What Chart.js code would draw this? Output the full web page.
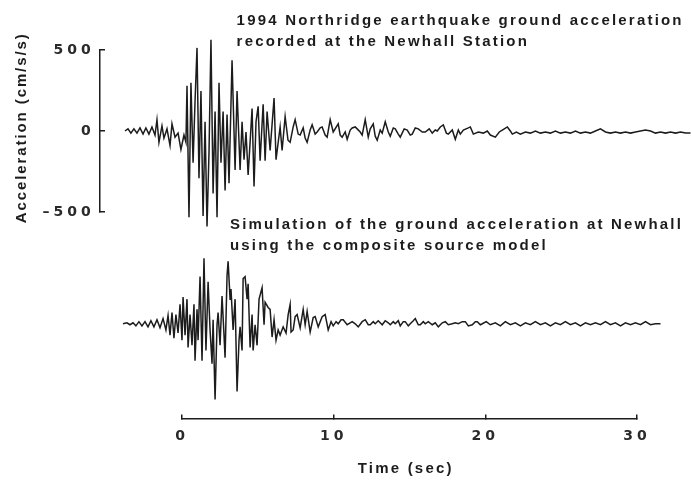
<!DOCTYPE html>
<html>
<head>
<meta charset="utf-8">
<script src="https://cdn.jsdelivr.net/npm/chart.js@4.4.1/dist/chart.umd.min.js"></script>
<style>
  html, body { margin: 0; padding: 0; background: #fff; }
  canvas { display: block; }
</style>
</head>
<body>
<canvas id="quake" width="691" height="481"></canvas>
<script>
// recorded ground acceleration at Newhall (time in s, acceleration in cm/s/s)
recTime = [
  -3.76,-3.56,-3.37,-3.17,-2.97,-2.77,-2.57,-2.38,-2.18,-1.98,
  -1.78,-1.65,-1.52,-1.32,-1.19,-0.99,-0.79,-0.66,-0.46,-0.26,
  -0.07,0.13,0.26,0.33,0.46,0.59,0.73,0.86,0.99,1.12,
  1.25,1.39,1.52,1.65,1.78,1.91,2.05,2.18,2.31,2.44,
  2.57,2.71,2.84,2.97,3.10,3.30,3.50,3.63,3.83,3.96,
  4.09,4.22,4.36,4.49,4.62,4.75,4.88,5.02,5.15,5.35,
  5.48,5.61,5.81,6.07,6.20,6.47,6.60,6.80,6.99,7.13,
  7.33,7.46,7.66,7.79,7.99,8.12,8.25,8.45,8.58,8.78,
  8.91,9.11,9.24,9.44,9.57,9.77,9.97,10.30,10.43,10.56,
  10.76,10.89,11.09,11.22,11.42,11.55,11.75,11.88,12.08,12.28,
  12.41,12.61,12.74,12.87,13.07,13.20,13.40,13.60,13.73,13.93,
  14.06,14.26,14.39,14.65,14.85,15.05,15.18,15.38,15.58,15.84,
  16.04,16.30,16.50,16.70,16.83,17.03,17.23,17.43,17.56,17.82,
  18.02,18.22,18.35,18.55,18.88,19.01,19.21,19.54,19.87,20.13,
  20.33,20.66,20.92,21.12,21.45,21.65,21.78,22.05,22.31,22.64,
  22.97,23.30,23.63,23.96,24.29,24.62,24.95,25.28,25.61,25.94,
  26.27,26.60,26.93,27.26,27.59,27.92,28.25,28.58,28.91,29.24,
  29.57,29.90,30.23,30.56,30.89,31.22,31.55,31.88,32.21,32.54,
  32.87,33.20,33.53
]
recAcc = [
  0,13,-13,13,-13,19,-19,19,-19,25,
  -25,70,-70,32,-44,13,-89,44,-38,-13,
  -114,-25,-70,279,-532,298,-196,184,513,-291,
  247,-525,57,-589,-133,563,-386,120,-532,298,
  -196,120,-367,101,-323,437,-241,247,-241,57,
  -177,-6,-272,-70,139,-342,57,152,-184,165,
  -184,120,-120,203,-177,25,-120,89,-57,-70,
  25,70,-19,-25,19,-44,-70,6,38,-19,
  -6,19,25,-25,-38,70,-6,44,-25,-38,
  -6,-51,6,19,25,13,-6,-25,70,-38,
  13,44,-32,-57,6,-13,57,-6,-32,19,
  13,-19,-38,13,6,-25,-19,19,13,-6,
  -6,13,-13,6,0,25,38,-13,-19,6,
  -51,6,-19,6,19,25,-19,-6,-13,0,
  -25,-38,-6,6,25,0,-19,-6,-19,-6,
  -13,0,-13,-6,-13,0,-13,-6,-13,0,
  -13,-6,-13,0,13,-6,-13,-6,-13,-6,
  -13,-6,0,6,0,-13,-6,-13,-6,-13,
  -6,-13,-13
]

// composite source model simulation
simTime = [
  -3.89,-3.63,-3.43,-3.23,-3.04,-2.84,-2.64,-2.44,-2.24,-2.05,
  -1.85,-1.65,-1.45,-1.25,-1.06,-0.92,-0.79,-0.66,-0.53,-0.40,
  -0.26,-0.13,0.00,0.07,0.20,0.33,0.40,0.53,0.66,0.79,
  0.86,0.99,1.06,1.19,1.32,1.45,1.58,1.72,1.85,1.98,
  2.05,2.18,2.31,2.38,2.51,2.64,2.77,2.84,2.97,3.04,
  3.17,3.23,3.37,3.50,3.63,3.76,3.83,3.96,4.03,4.16,
  4.29,4.36,4.49,4.62,4.69,4.82,4.95,5.08,5.28,5.41,
  5.48,5.68,5.81,5.94,6.07,6.20,6.34,6.47,6.67,6.86,
  7.00,7.13,7.19,7.33,7.46,7.59,7.79,7.99,8.12,8.25,
  8.45,8.65,8.78,8.98,9.24,9.44,9.64,9.83,9.97,10.16,
  10.30,10.49,10.63,10.89,11.09,11.22,11.42,11.62,11.88,12.08,
  12.28,12.41,12.61,12.74,12.94,13.20,13.40,13.60,13.73,13.93,
  14.06,14.26,14.39,14.59,14.72,14.92,15.05,15.25,15.38,15.58,
  15.71,15.91,16.04,16.24,16.50,16.70,16.90,17.16,17.36,17.56,
  17.82,18.02,18.22,18.48,18.68,18.88,19.14,19.34,19.47,19.67,
  19.80,20.06,20.33,20.66,20.99,21.32,21.65,21.98,22.31,22.64,
  22.97,23.30,23.63,23.96,24.29,24.62,24.95,25.28,25.61,25.94,
  26.27,26.60,26.93,27.26,27.59,27.92,28.25,28.58,28.91,29.24,
  29.57,29.90,30.23,30.56,30.89,31.22,31.55
]
simAcc = [
  0,6,-6,6,-13,13,-13,13,-19,19,
  -19,25,-25,32,-38,51,-70,70,-89,57,
  -57,120,-101,165,-70,152,-146,57,-133,120,
  -228,89,-101,291,-228,405,-165,260,-38,-247,
  25,-468,-6,70,-133,171,-70,-209,298,386,
  152,215,-38,152,-418,-101,-19,-165,279,291,
  152,247,-146,57,-165,-6,-133,152,222,-6,
  133,101,89,-82,25,-101,-38,-70,-19,-57,
  57,120,-51,-38,44,57,-25,89,-6,76,
  -51,38,44,-19,44,57,-38,13,-13,13,
  0,25,25,-6,6,13,0,-19,13,25,
  -6,-6,13,0,19,-6,19,6,-6,13,
  0,19,-13,13,13,-13,0,19,32,-6,
  -6,13,0,13,-6,6,-19,6,13,-6,
  0,6,0,13,13,-13,-6,13,13,-6,
  0,13,-6,6,-13,13,-6,6,-13,6,
  -6,13,-6,6,-13,6,-6,13,-6,6,
  -13,6,-6,6,-6,13,-6,6,-13,6,
  -6,6,-6,13,-6,0,0
]

recLabel = ['1994 Northridge earthquake ground acceleration', 'recorded at the Newhall Station']
simLabel = ['Simulation of the ground acceleration at Newhall', 'using the composite source model']
yTitle = 'Acceleration (cm/s/s)'
xTitle = 'Time (sec)'

ink = '#1c1c1c'
yAxisAt = -5.4     // time where the acceleration axis stands
xAxisAt = -1778    // acceleration level (top scale) where the time axis runs

function trace(times, acc, axis) {
  return {
    data: times.map((t, i) => ({x: t, y: acc[i]})),
    yAxisID: axis,
    borderColor: ink,
    borderWidth: 1.5,
    pointRadius: 0,
    tension: 0,
    clip: false
  };
}

tickFont = {family: '"DejaVu Sans", sans-serif', size: 14, weight: 'bold'}

// captions and axis titles, drawn in the print's wide bold lettering
captions = {
  id: 'captions',
  beforeDraw(chart) {
    chart.ctx.letterSpacing = '4px';   // wide tick numerals
  },
  afterDraw(chart) {
    const ctx = chart.ctx;
    const x = chart.scales.x, y = chart.scales.y, ys = chart.scales.ySim;
    ctx.save();
    ctx.fillStyle = ink;
    ctx.font = 'bold 15px "Liberation Sans", Arial, sans-serif';
    ctx.letterSpacing = '2.2px';
    ctx.textBaseline = 'middle';
    ctx.textAlign = 'left';
    recLabel.forEach((s, i) => ctx.fillText(s, x.getPixelForValue(3.6), y.getPixelForValue(680) + i * 21));
    simLabel.forEach((s, i) => ctx.fillText(s, x.getPixelForValue(3.16), ys.getPixelForValue(610) + i * 21));

    ctx.textAlign = 'center';
    ctx.fillText(xTitle, x.getPixelForValue(14.75), y.getPixelForValue(xAxisAt) + 50);

    ctx.letterSpacing = '1.9px';
    ctx.translate(x.getPixelForValue(yAxisAt) - 78, y.getPixelForValue(20));
    ctx.rotate(-Math.PI / 2);
    ctx.fillText(yTitle, 0, 0);
    ctx.restore();
  }
};

new Chart(document.getElementById('quake'), {
  type: 'line',
  data: {
    datasets: [
      trace(recTime, recAcc, 'y'),
      trace(simTime, simAcc, 'ySim')
    ]
  },
  options: {
    responsive: false,
    animation: false,
    events: [],
    layout: {padding: {left: 182, right: 54, top: 50, bottom: 269}},
    plugins: {legend: {display: false}, tooltip: {enabled: false}},
    scales: {
      x: {
        type: 'linear',
        position: {y: xAxisAt},
        // axis runs 0..30 s; set here so the traces before 0 and after 30 s still get drawn
        afterDataLimits: s => { s.min = 0; s.max = 30; },
        grid: {drawOnChartArea: false, tickLength: -5, color: ink, lineWidth: 1.5},
        border: {color: ink, width: 1.5},
        ticks: {stepSize: 10, color: '#2a2a2a', padding: 14, maxRotation: 0, font: tickFont}
      },
      y: {
        type: 'linear',
        min: -500,
        max: 500,
        position: {x: yAxisAt},
        grid: {drawOnChartArea: false, tickLength: -6, color: ink, lineWidth: 1.5},
        border: {color: ink, width: 1.5},
        ticks: {stepSize: 500, color: '#2a2a2a', font: tickFont,
                // hair space keeps the numbers clear of the axis line
                callback: v => (v < 0 ? '\u2013' + Math.abs(v) : String(v)) + '\u200a'}
      },
      ySim: {
        type: 'linear',
        min: 690,
        max: 1690,
        display: false
      }
    }
  },
  plugins: [captions]
});
</script>
</body>
</html>
